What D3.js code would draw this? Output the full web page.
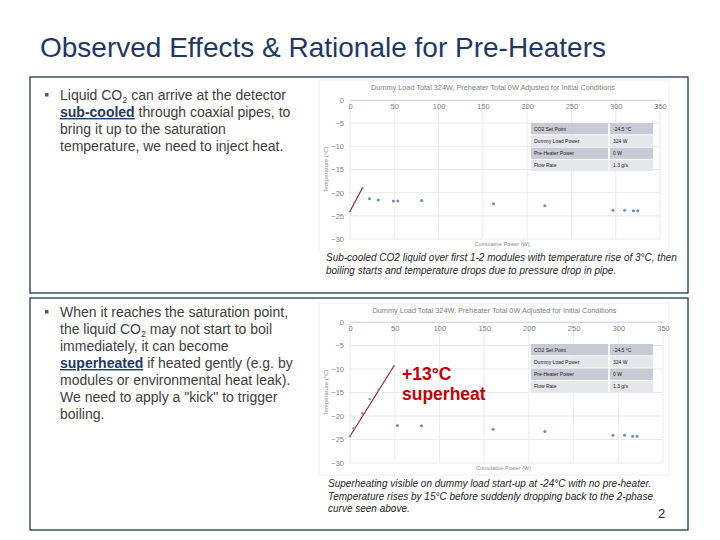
<!DOCTYPE html>
<html>
<head>
<meta charset="utf-8">
<script src="https://cdn.jsdelivr.net/npm/d3@7"></script>
<style>
  html, body { margin: 0; padding: 0; background: #fff; }
  svg { display: block; font-family: "Liberation Sans", Arial, sans-serif; }
</style>
</head>
<body>
<div id="slide"></div>
<script>
// axis ticks shared by both charts
const xTicks = [0, 50, 100, 150, 200, 250, 300, 350];
const yTicks = [0, -5, -10, -15, -20, -25, -30];

// chart 1: sub-cooled start-up
const subRisePower = [0, 5, 14];
const subRiseTemp = [-24.0, -22.1, -19.0];
const subPower = [22, 32, 49, 54, 81, 162, 220, 297, 310, 320, 325];
const subTemp = [-21.3, -21.6, -21.8, -21.8, -21.7, -22.4, -22.8, -23.8, -23.8, -23.9, -23.9];

// chart 2: superheated start-up
const supRisePower = [0, 4, 14, 22, 32, 49];
const supRiseTemp = [-24.3, -22.6, -19.4, -16.4, -14.4, -9.4];
const supPower = [53, 80, 160, 218, 294, 307, 316, 321];
const supTemp = [-22.0, -22.1, -22.8, -23.3, -24.1, -24.1, -24.3, -24.3];

// settings table in each chart
const tableLabels = ["CO2 Set Point", "Dummy Load Power", "Pre-Heater Power", "Flow Rate"];
const tableValues = ["-24.5 °C", "324 W", "0 W", "1.3 g/s"];

const chartTitle = "Dummy Load Total 324W, Preheater Total 0W Adjusted for Initial Conditions";

const width = 720;
const height = 540;
const navy = "#1f3864";
const textGray = "#404040";

const svg = d3
	.select("#slide")
	.append("svg")
	.attr("width", width)
	.attr("height", height);

// slide title
svg.append("text")
	.attr("x", 40)
	.attr("y", 57)
	.attr("font-size", 28)
	.attr("fill", navy)
	.text("Observed Effects & Rationale for Pre-Heaters");

// two framed boxes
[[77, 293], [298, 530]].forEach(([top, bottom]) => {
	svg.append("rect")
		.attr("x", 30)
		.attr("y", top)
		.attr("width", 658)
		.attr("height", bottom - top)
		.attr("fill", "none")
		.attr("stroke", "#23364a")
		.attr("stroke-width", 1.3);
});

// bullet paragraphs: each line is a list of [text, style] runs
function bullet(lines, y0) {
	svg.append("rect")
		.attr("x", 45)
		.attr("y", y0 - 7)
		.attr("width", 3.5)
		.attr("height", 3.5)
		.attr("fill", "#595959");
	lines.forEach((runs, i) => {
		const t = svg.append("text")
			.attr("x", 60)
			.attr("y", y0 + i * 17)
			.attr("font-size", 14)
			.attr("fill", textGray);
		runs.forEach(([s, kind]) => {
			const span = t.append("tspan").text(s);
			if (kind === "b") {
				span.attr("font-weight", "bold")
					.attr("fill", navy)
					.attr("text-decoration", "underline");
			} else if (kind === "sub") {
				span.attr("font-size", 9).attr("dy", 3);
			} else if (kind === "after") {
				span.attr("dy", -3);
			}
		});
	});
}

bullet([
	[["Liquid CO"], ["2", "sub"], [" can arrive at the detector", "after"]],
	[["sub-cooled", "b"], [" through coaxial pipes, to"]],
	[["bring it up to the saturation"]],
	[["temperature, we need to inject heat."]],
], 100);

bullet([
	[["When it reaches the saturation point,"]],
	[["the liquid CO"], ["2", "sub"], [" may not start to boil", "after"]],
	[["immediately, it can become"]],
	[["superheated", "b"], [" if heated gently (e.g. by"]],
	[["modules or environmental heat leak)."]],
	[["We need to apply a \"kick\" to trigger"]],
	[["boiling."]],
], 317);

function drawChart(opt) {
	const g = svg.append("g");

	// light frame of the pasted chart
	g.append("rect")
		.attr("x", opt.frame[0])
		.attr("y", opt.frame[1])
		.attr("width", opt.frame[2])
		.attr("height", opt.frame[3])
		.attr("fill", "#fff")
		.attr("stroke", "#ececec")
		.attr("stroke-width", 0.8);

	const x = d3.scaleLinear().domain([0, 350]).range(opt.xRange);
	const y = d3.scaleLinear().domain([0, -30]).range(opt.yRange);

	// gridlines
	g.append("g")
		.selectAll("line")
		.data(xTicks)
		.enter()
		.append("line")
		.attr("x1", (d) => x(d))
		.attr("x2", (d) => x(d))
		.attr("y1", y(0))
		.attr("y2", y(-30))
		.attr("stroke", "#e6e6e6")
		.attr("stroke-width", 0.8);

	g.append("g")
		.selectAll("line")
		.data(yTicks)
		.enter()
		.append("line")
		.attr("x1", x(0))
		.attr("x2", x(350))
		.attr("y1", (d) => y(d))
		.attr("y2", (d) => y(d))
		.attr("stroke", "#e3e3e3")
		.attr("stroke-width", 0.8);

	// x axis crosses at 0, labels hang below it
	const xAxis = d3.axisBottom(x).tickValues(xTicks).tickSize(0).tickPadding(4);
	const gx = g.append("g")
		.attr("transform", `translate(0,${y(0)})`)
		.call(xAxis);
	gx.select(".domain").attr("stroke", "#d0d0d0").attr("stroke-width", 0.8);
	gx.selectAll("text")
		.attr("font-size", 7.5)
		.attr("fill", "#7f7f7f")
		.attr("font-family", "Liberation Sans, Arial, sans-serif");

	const yAxis = d3.axisLeft(y).tickValues(yTicks).tickSize(0).tickPadding(6);
	const gy = g.append("g")
		.attr("transform", `translate(${x(0)},0)`)
		.call(yAxis);
	gy.select(".domain").remove();
	gy.selectAll("text")
		.attr("font-size", 7.5)
		.attr("fill", "#7f7f7f")
		.attr("font-family", "Liberation Sans, Arial, sans-serif");

	// titles
	g.append("text")
		.attr("x", (opt.xRange[0] + opt.xRange[1]) / 2 - 12)
		.attr("y", opt.titleY)
		.attr("text-anchor", "middle")
		.attr("font-size", 7.3)
		.attr("fill", "#808080")
		.text(chartTitle);

	g.append("text")
		.attr("x", (opt.xRange[0] + opt.xRange[1]) / 2 - 3)
		.attr("y", opt.xLabelY)
		.attr("text-anchor", "middle")
		.attr("font-size", 5.5)
		.attr("fill", "#8c8c8c")
		.text("Cumulative Power (W)");

	g.append("text")
		.attr("transform", `translate(328,${(opt.yRange[0] + opt.yRange[1]) / 2}) rotate(-90)`)
		.attr("text-anchor", "middle")
		.attr("font-size", 6)
		.attr("fill", "#8c8c8c")
		.text("Temperature (°C)");

	// settings table
	const rowH = 12.3;
	const tbl = g.append("g");
	tableLabels.forEach((lab, i) => {
		const fill = i % 2 === 0 ? "#c9cad3" : "#e6e7eb";
		const ty = opt.tableY + i * rowH;
		tbl.append("rect")
			.attr("x", 531)
			.attr("y", ty)
			.attr("width", 77)
			.attr("height", rowH - 1)
			.attr("fill", fill);
		tbl.append("rect")
			.attr("x", 610)
			.attr("y", ty)
			.attr("width", 43)
			.attr("height", rowH - 1)
			.attr("fill", fill);
		tbl.append("text")
			.attr("x", 534)
			.attr("y", ty + 7.5)
			.attr("font-size", 5)
			.attr("fill", "#222")
			.text(lab);
		tbl.append("text")
			.attr("x", 613)
			.attr("y", ty + 7.5)
			.attr("font-size", 5)
			.attr("fill", "#222")
			.text(tableValues[i]);
	});

	// temperature rise: straight trend from first to last reading
	const rise = opt.risePower.map((p, i) => [p, opt.riseTemp[i]]);
	const trend = [rise[0], rise[rise.length - 1]];
	g.append("path")
		.datum(trend)
		.attr("d", d3.line().x((d) => x(d[0])).y((d) => y(d[1])))
		.attr("fill", "none")
		.attr("stroke", "#8e1b2c")
		.attr("stroke-width", 1.1);
	g.append("g")
		.selectAll("circle")
		.data(rise)
		.enter()
		.append("circle")
		.attr("cx", (d) => x(d[0]))
		.attr("cy", (d) => y(d[1]))
		.attr("r", 1.2)
		.attr("fill", "#7f8fa8");

	// two-phase points
	g.append("g")
		.selectAll("circle")
		.data(opt.power.map((p, i) => [p, opt.temp[i]]))
		.enter()
		.append("circle")
		.attr("cx", (d) => x(d[0]))
		.attr("cy", (d) => y(d[1]))
		.attr("r", 1.5)
		.attr("fill", "#6b8fb5");

	return { x, y };
}

drawChart({
	frame: [319, 80, 350, 172],
	xRange: [350, 660],
	yRange: [100, 239],
	titleY: 90,
	xLabelY: 246,
	tableY: 123,
	risePower: subRisePower,
	riseTemp: subRiseTemp,
	power: subPower,
	temp: subTemp,
});

drawChart({
	frame: [319, 303, 350, 172],
	xRange: [350, 663],
	yRange: [322, 463],
	titleY: 313,
	xLabelY: 470,
	tableY: 344,
	risePower: supRisePower,
	riseTemp: supRiseTemp,
	power: supPower,
	temp: supTemp,
});

// superheat annotation
[["+13°C", 380], ["superheat", 400]].forEach(([s, yy]) => {
	svg.append("text")
		.attr("x", 402)
		.attr("y", yy)
		.attr("font-size", 17.5)
		.attr("font-weight", "bold")
		.attr("fill", "#c00000")
		.text(s);
});

// captions
function caption(lines, x0, y0) {
	lines.forEach((s, i) => {
		svg.append("text")
			.attr("x", x0)
			.attr("y", y0 + i * 12.5)
			.attr("font-size", 10)
			.attr("font-style", "italic")
			.attr("fill", "#262626")
			.text(s);
	});
}

caption([
	"Sub-cooled CO2 liquid over first 1-2 modules with temperature rise of 3°C, then",
	"boiling starts and temperature drops due to pressure drop in pipe.",
], 326, 261);

caption([
	"Superheating visible on dummy load start-up at -24°C with no pre-heater.",
	"Temperature rises by 15°C before suddenly dropping back to the 2-phase",
	"curve seen above.",
], 328, 487);

svg.append("text")
	.attr("x", 658)
	.attr("y", 518)
	.attr("font-size", 13)
	.attr("fill", "#262626")
	.text("2");
</script>
</body>
</html>
